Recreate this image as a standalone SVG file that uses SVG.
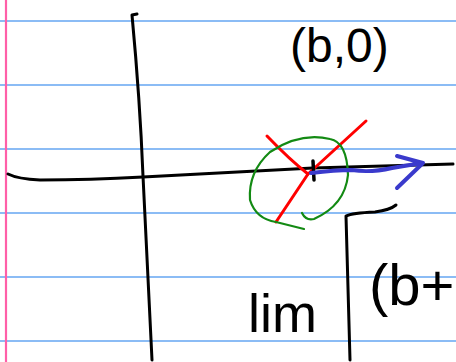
<svg xmlns="http://www.w3.org/2000/svg" width="456" height="362" viewBox="0 0 456 362">
<style>
.rule{stroke:#64a6f2;stroke-width:1.6;fill:none}
.ink{stroke:#000;stroke-width:3;fill:none;stroke-linecap:round;stroke-linejoin:round}
.hw{font-family:"Liberation Sans",Arial,sans-serif;fill:#000}
</style>
<rect width="456" height="362" fill="#fff"/>
<g id="paper">
<line class="rule" x1="0" y1="21" x2="456" y2="21"/>
<line class="rule" x1="0" y1="85" x2="456" y2="85"/>
<line class="rule" x1="0" y1="149" x2="456" y2="149"/>
<line class="rule" x1="0" y1="213" x2="456" y2="213"/>
<line class="rule" x1="0" y1="277" x2="456" y2="277"/>
<line class="rule" x1="0" y1="341" x2="456" y2="341"/>
<line x1="6" y1="0" x2="6" y2="362" stroke="#ff5fa8" stroke-width="2.2"/>
</g>
<g id="axes">
<path class="ink" d="M137,14 L132,15 Q140,100 143,176 Q148,270 152,360"/>
<path class="ink" d="M8,174 Q18,179 40,180 Q90,180 143,177 L313,168 L453,164"/>
</g>
<g id="marks">
<path d="M267,136 Q290,160 308,174" stroke="#ff0000" stroke-width="3" fill="none" stroke-linecap="round"/>
<path d="M276,222 L308,174 L366,121" stroke="#ff0000" stroke-width="3" fill="none" stroke-linecap="round" stroke-linejoin="round"/>
<path d="M302,213 Q306,221 314,219 Q345,205 348,175 Q347,142 330,139 Q300,132 270,152 Q248,172 250,200 Q256,219 276,222 Q292,226 304,229" stroke="#138a13" stroke-width="2.2" fill="none" stroke-linecap="round"/>
<line x1="313" y1="161" x2="314" y2="180" stroke="#000" stroke-width="3.5" stroke-linecap="round"/>
<path d="M311,173 Q335,170 352,170 Q370,173 392,168 L422,163 M397,156 L423,163 L397,188" stroke="#3a3acc" stroke-width="4" fill="none" stroke-linecap="round" stroke-linejoin="round"/>
<path class="ink" d="M350,360 L346,216 Q352,213 375,212 Q390,210 396,205"/>
</g>
<g id="labels">
<text class="hw" x="290" y="62" font-size="48">(b,0)</text>
<text class="hw" x="248" y="332" font-size="54">lim</text>
<text class="hw" x="369" y="305" font-size="58">(b+</text>
</g>
</svg>
